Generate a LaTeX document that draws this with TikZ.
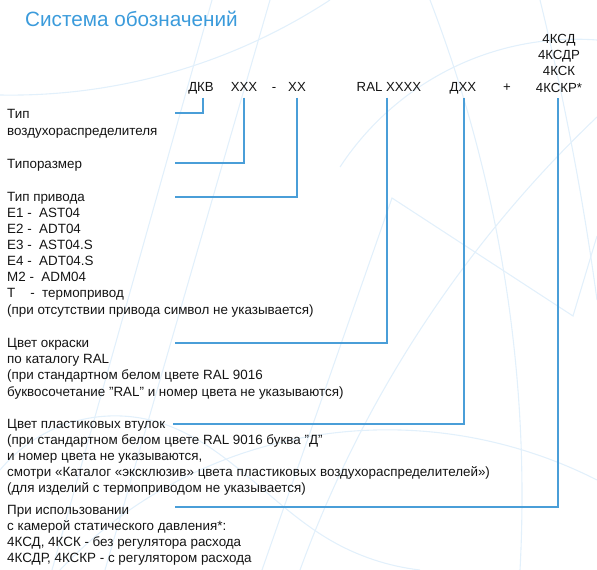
\documentclass[tikz,border=0pt]{standalone}
\usepackage{fontspec}
\setmainfont{Liberation Sans}
\usepackage{tikz}
\usetikzlibrary{calc, hobby}
\definecolor{lineblue}{RGB}{74,158,216}
\definecolor{titleblue}{RGB}{59,155,219}
\definecolor{faint}{RGB}{226,240,251}
\definecolor{ink}{RGB}{20,20,20}
\tikzset{
    txt/.style={anchor=base west, inner sep=0pt, align=left, text=ink,
        font=\fontsize{13.4}{16.1}\selectfont},
    code/.style={anchor=base, inner sep=0pt, text=ink,
        font=\fontsize{13.2}{16.3}\selectfont},
    conn/.style={draw=lineblue, line width=1.3pt},
    bg/.style={draw=faint, line width=1.1pt},
}

\begin{document}
\begin{tikzpicture}[x=1pt, y=-1pt, use Hobby shortcut]
    \useasboundingbox (0,0) rectangle (597,570);
    % faint background strokes
    \draw[bg] (212,0) -- (52,570);
    \draw[bg] (270,0) -- (105,570);
    \draw[bg] (0,95) .. (180,70) .. (330,0);
    \draw[bg] (300,570) .. (420,330) .. (597,117);
    \draw[bg] (340,167) .. (470,60) .. (597,40);
    \draw[bg] (262,570) -- (392,198) -- (573,316) -- (597,236);
    \draw[bg] (430,0) .. (500,250) .. (520,570);
    \draw[bg] (540,0) .. (585,220) .. (597,300);
    \draw[bg] (0,470) .. (150,420) .. (330,540) .. (420,570);
    \draw[bg] (60,570) .. (200,470) .. (400,430) .. (597,480);

    \node[anchor=base west, inner sep=0pt, text=titleblue,
        font=\fontsize{20.7}{24}\selectfont] (title) at (25,26) {Система обозначений};

    % designation row (multi-line nodes sit on their last baseline)
    \node[code] (dkv) at (201,91) {ДКВ};
    \node[code] (size) at (244,91) {ХХХ};
    \node[code] (dash) at (274,91) {-};
    \node[code] (drive) at (297,91) {ХХ};
    \node[code] (ral) at (389,91) {RAL ХХХХ};
    \node[code] (bush) at (463,91) {ДХХ};
    \node[code] (plus) at (507,91) {+};
    \node[code, align=center] (box) at (559,92) {4КСД\\4КСДР\\4КСК\\4КСКР*};

    % descriptions
    \node[txt] (t1) at (7,135) {Тип\\воздухораспределителя};
    \node[txt] (t2) at (7,168) {Типоразмер};
    \node[txt] (t3) at (7,314) {Тип привода\\E1 -\ \ AST04\\E2 -\ \ ADT04\\E3 -\ \ AST04.S\\E4 -\ \ ADT04.S\\M2 -\ \ ADM04\\T\ \ \ \ -\ \ термопривод\\(при отсутствии привода символ не указывается)};
    \node[txt] (t4) at (7,396) {Цвет окраски\\по каталогу RAL\\(при стандартном белом цвете RAL 9016\\буквосочетание "RAL" и номер цвета не указываются)};
    \node[txt] (t5) at (7,492.5) {Цвет пластиковых втулок\\(при стандартном белом цвете RAL 9016 буква "Д"\\и номер цвета не указываются,\\смотри «Каталог «эксклюзив» цвета пластиковых воздухораспределителей»)\\(для изделий с термоприводом не указывается)};
    \node[txt] (t6) at (7,562.5) {При использовании\\с камерой статического давления*:\\4КСД, 4КСК - без регулятора расхода\\4КСДР, 4КСКР - с регулятором расхода};

    % connector ends
    \coordinate (e1) at (175,113);
    \coordinate (e2) at (175,163);
    \coordinate (e3) at (175,197);
    \coordinate (e4) at (175,343);
    \coordinate (e5) at (173,424);
    \coordinate (e6) at (175,507);

    \draw[conn] ([yshift=-6.5pt]dkv.base -| 203,0) |- (e1);
    \draw[conn] ([yshift=-6.5pt]size.base) |- (e2);
    \draw[conn] ([yshift=-6.5pt]drive.base) |- (e3);
    \draw[conn] ([yshift=-6.5pt]ral.base -| 387,0) |- (e4);
    \draw[conn] ([yshift=-6.5pt]bush.base -| 464,0) |- (e5);
    \draw[conn] ([yshift=-6pt]box.base -| 558,0) |- (e6);
\end{tikzpicture}
\end{document}
